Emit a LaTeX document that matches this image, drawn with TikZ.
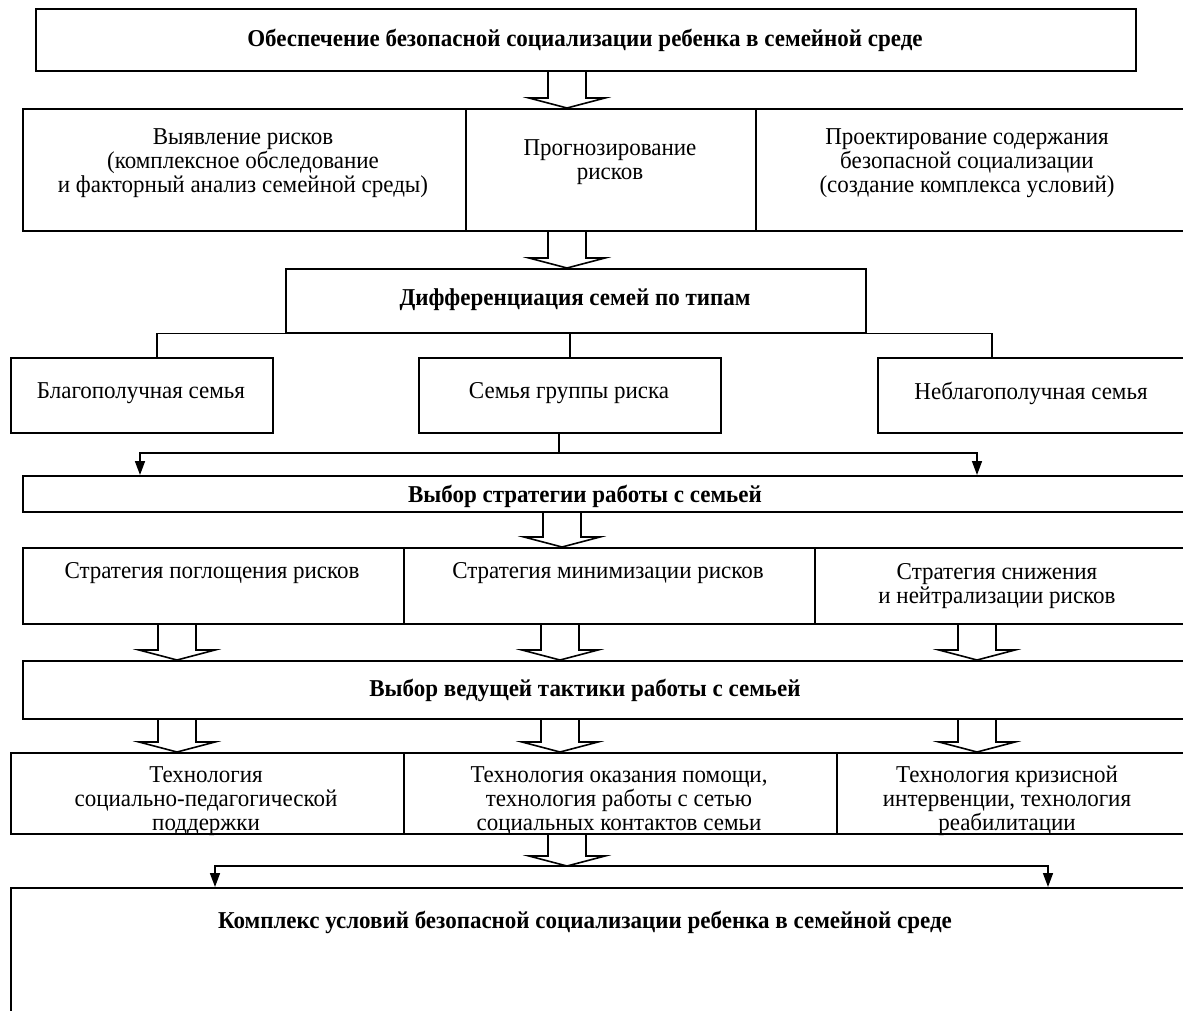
\documentclass[tikz,border=0pt]{standalone}
\usepackage{fontspec}
\setmainfont[FakeStretch=0.95]{Liberation Serif}
\usetikzlibrary{calc,arrows.meta}
\tikzset{
  box/.style={draw, line width=1.6pt, anchor=north west, inner sep=0pt},
  txt/.style={align=center, inner sep=0pt, font=\fontsize{24.2}{24}\selectfont},
  ttl/.style={align=center, inner sep=0pt, font=\bfseries\fontsize{24.2}{24}\selectfont},
  barr/.style={draw, line width=1.6pt, line join=miter},
  conn/.style={draw, line width=1.6pt},
  arr/.style={draw, line width=1.6pt, -{Triangle[length=14pt,width=10pt]}}
}
\newcommand\barrow[2]{%
  \draw[barr] let \p1=#1, \p2=#2 in
    ({\x1-19pt},\y1) -- ({\x1-19pt},{\y2+10pt}) -- ({\x1-38pt},{\y2+10pt}) --
    (\x1,\y2) -- ({\x1+38pt},{\y2+10pt}) -- ({\x1+19pt},{\y2+10pt}) -- ({\x1+19pt},\y1);}
\begin{document}
\begin{tikzpicture}[x=1pt,y=-1pt]
\useasboundingbox (0,0) rectangle (1183,1010);
\clip (0,0) rectangle (1183,1010);
% row 1
\node[box, minimum width=1100pt, minimum height=62pt] (top) at (35,8) {};
\node[ttl] (topT) at (585,40) {Обеспечение безопасной социализации ребенка в семейной среде};
% row 2
\node[box, minimum width=443pt, minimum height=122pt] (r2a) at (22,108) {};
\node[box, minimum width=290pt, minimum height=122pt] (r2b) at (465,108) {};
\node[box, minimum width=440pt, minimum height=122pt] (r2c) at (755,108) {};
\node[txt] (r2aT) at (243,163) {Выявление рисков\\(комплексное обследование\\и факторный анализ семейной среды)};
\node[txt] (r2bT) at (610,162) {Прогнозирование\\рисков};
\node[txt] (r2cT) at (967,163) {Проектирование содержания\\безопасной социализации\\(создание комплекса условий)};
% row 3
\node[box, minimum width=580pt, minimum height=64pt] (dif) at (285,268) {};
\node[ttl] (difT) at (575,300) {Дифференциация семей по типам};
% row 4
\node[box, minimum width=262pt, minimum height=75pt] (fam1) at (10,357) {};
\node[box, minimum width=302pt, minimum height=75pt] (fam2) at (418,357) {};
\node[box, minimum width=320pt, minimum height=75pt] (fam3) at (877,357) {};
\node[txt] (fam1T) at (141,393) {Благополучная семья};
\node[txt] (fam2T) at (569,393) {Семья группы риска};
\node[txt] (fam3T) at (1031,393) {Неблагополучная семья};
% row 5
\node[box, minimum width=1170pt, minimum height=36pt] (str) at (22,475) {};
\node[ttl] (strT) at (585,496) {Выбор стратегии работы с семьей};
% row 6
\node[box, minimum width=381pt, minimum height=76pt] (s1) at (22,547) {};
\node[box, minimum width=411pt, minimum height=76pt] (s2) at (403,547) {};
\node[box, minimum width=380pt, minimum height=76pt] (s3) at (814,547) {};
\node[txt] (s1T) at (212,573) {Стратегия поглощения рисков};
\node[txt] (s2T) at (608,573) {Стратегия минимизации рисков};
\node[txt] (s3T) at (997,586) {Стратегия снижения\\и нейтрализации рисков};
% row 7
\node[box, minimum width=1170pt, minimum height=58pt] (tac) at (22,660) {};
\node[ttl] (tacT) at (585,690) {Выбор ведущей тактики работы с семьей};
% row 8
\node[box, minimum width=393pt, minimum height=81pt] (t1) at (10,752) {};
\node[box, minimum width=433pt, minimum height=81pt] (t2) at (403,752) {};
\node[box, minimum width=360pt, minimum height=81pt] (t3) at (836,752) {};
\node[txt] (t1T) at (206,801) {Технология\\социально-педагогической\\поддержки};
\node[txt] (t2T) at (619,801) {Технология оказания помощи,\\технология работы с сетью\\социальных контактов семьи};
\node[txt] (t3T) at (1007,801) {Технология кризисной\\интервенции, технология\\реабилитации};
% row 9
\node[box, minimum width=1200pt, minimum height=200pt] (fin) at (10,887) {};
\node[ttl] (finT) at (585,922) {Комплекс условий безопасной социализации ребенка в семейной среде};
% block arrows
\barrow{($(top.south west)+(532,0)$)}{(r2a.north)}
\barrow{($(r2a.south west)+(545,0)$)}{(dif.north)}
\barrow{($(str.south west)+(540,0)$)}{(s1.north)}
\barrow{($(s1.south west)+(155,0)$)}{(tac.north)}
\barrow{($(s2.south west)+(157,0)$)}{(tac.north)}
\barrow{($(s3.south west)+(163,0)$)}{(tac.north)}
\barrow{($(tac.south west)+(155,0)$)}{(t1.north)}
\barrow{($(tac.south west)+(538,0)$)}{(t1.north)}
\barrow{($(tac.south west)+(955,0)$)}{(t1.north)}
\coordinate (j2) at (567,866);
\barrow{($(t2.south west)+(164,0)$)}{(j2)}
% connectors
\draw[conn] (dif.south west) -| ($(fam1.north west)+(147,0)$);
\draw[conn] (dif.south east) -| ($(fam3.north west)+(115,0)$);
\draw[conn] (dif.south -| fam2.north) -- (fam2.north);
\coordinate (j1) at (559,453);
\draw[conn] ($(fam2.south west)+(141,0)$) -- (j1);
\draw[arr] (j1) -| ($(str.north west)+(118,0)$);
\draw[arr] (j1) -| ($(str.north west)+(955,0)$);
\draw[arr] (j2) -| ($(fin.north west)+(205,0)$);
\draw[arr] (j2) -| ($(fin.north west)+(1038,0)$);
\end{tikzpicture}
\end{document}
